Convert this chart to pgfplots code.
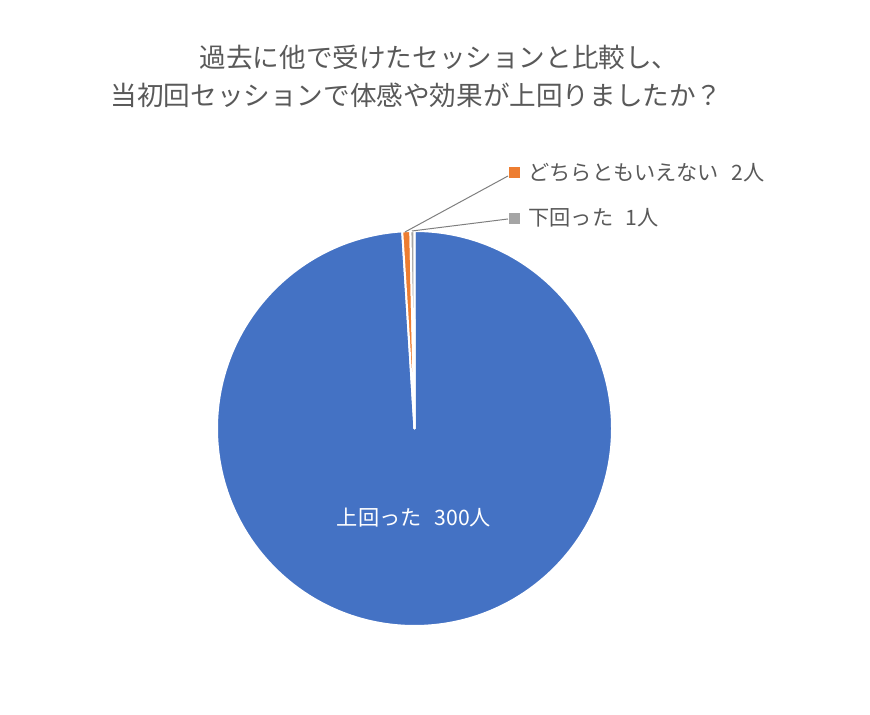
\documentclass[border=0pt]{standalone}
\usepackage{pgfplots}
\pgfplotsset{compat=1.18}
\usepackage{pgfplotstable}
\usepackage{fontspec}
\setmainfont{Noto Sans CJK JP}

\definecolor{pieblue}{HTML}{4472C4}
\definecolor{pieorange}{HTML}{ED7D31}
\definecolor{piegray}{HTML}{A5A5A5}
\definecolor{txtgray}{HTML}{595959}
\definecolor{leader}{HTML}{7F7F7F}

% 上回った, どちらともいえない, 下回った
\pgfplotstableread{
value
300
2
1
}\piedata

\begin{document}
\begin{tikzpicture}
\pgfplotstablegetelem{0}{value}\of\piedata \let\va\pgfplotsretval
\pgfplotstablegetelem{1}{value}\of\piedata \let\vb\pgfplotsretval
\pgfplotstablegetelem{2}{value}\of\piedata \let\vc\pgfplotsretval
\pgfmathsetmacro\tot{\va+\vb+\vc}
\pgfmathsetmacro\aA{90-360*(\va/\tot)}
\pgfmathsetmacro\aB{\aA-360*(\vb/\tot)}
\pgfmathsetmacro\aC{\aB-360*(\vc/\tot)}
\def\R{98.75pt}
\begin{axis}[
    scale only axis,
    width=435pt, height=357.5pt,
    xmin=0, xmax=870, ymin=0, ymax=715,
    axis lines=none,
    clip=false,
]
    \path (axis cs:0,0) rectangle (axis cs:870,715);
    % slices, clockwise from 12 o'clock
    \filldraw[fill=pieblue, draw=white, line width=1pt, line join=round]
        (axis cs:414.5,286.5) -- ++(90:\R) arc[start angle=90, end angle=\aA, radius=\R] -- cycle;
    \filldraw[fill=pieorange, draw=white, line width=1pt, line join=round]
        (axis cs:414.5,286.5) -- ++(\aA:\R) arc[start angle=\aA, end angle=\aB, radius=\R] -- cycle;
    \filldraw[fill=piegray, draw=white, line width=1pt, line join=round]
        (axis cs:414.5,286.5) -- ++(\aB:\R) arc[start angle=\aB, end angle=\aC, radius=\R] -- cycle;

    % title
    \node[txtgray, font=\fontsize{13.3}{15}\selectfont] at (axis cs:439,657.5) {過去に他で受けたセッションと比較し、};
    \node[txtgray, font=\fontsize{13.3}{15}\selectfont] at (axis cs:416.5,619.5) {当初回セッションで体感や効果が上回りましたか？};

    % leader lines
    \draw[leader, line width=0.5pt] (axis cs:508,539) -- (axis cs:405,483);
    \draw[leader, line width=0.5pt] (axis cs:508,496) -- (axis cs:412,484);

    % outside labels
    \fill[pieorange] (axis cs:508.5,536.5) rectangle (axis cs:519.5,547.5);
    \fill[piegray] (axis cs:508.5,490.5) rectangle (axis cs:519.5,501.5);
    \node[txtgray, anchor=west, inner sep=0pt, font=\fontsize{10.6}{12}\selectfont] at (axis cs:528,542) {どちらともいえない\hspace{0.6em}2人};
    \node[txtgray, anchor=west, inner sep=0pt, font=\fontsize{10.6}{12}\selectfont] at (axis cs:528,497) {下回った\hspace{0.6em}1人};

    % inside label
    \node[white, font=\fontsize{10.6}{12}\selectfont] at (axis cs:414,197) {上回った\hspace{0.6em}300人};
\end{axis}
\end{tikzpicture}
\end{document}
